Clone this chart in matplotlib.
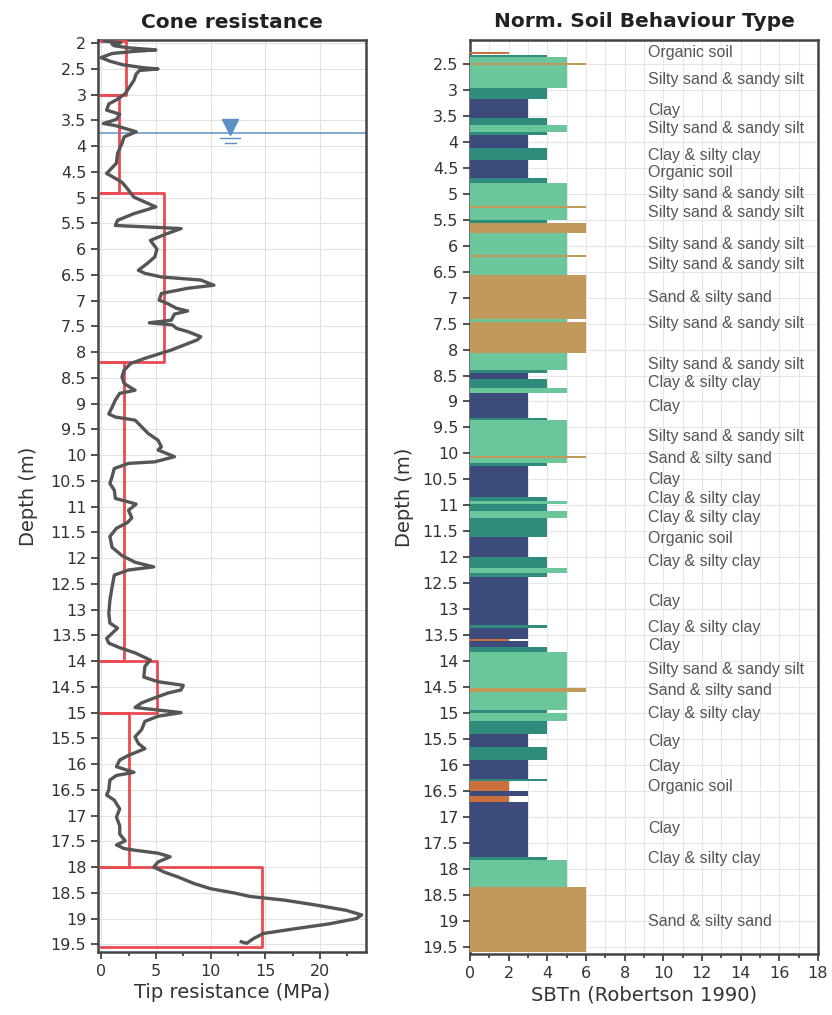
import numpy as np
import matplotlib
matplotlib.use("Agg")
from matplotlib import pyplot as plt
from matplotlib.ticker import MultipleLocator

# cone tip resistance profile (depth m, qc MPa)
qc_depth = [1.96, 1.99, 2.02, 2.05, 2.09, 2.13, 2.16, 2.2, 2.28, 2.35, 2.42, 2.48, 2.5, 2.53,
            2.6, 2.72, 2.85, 2.98, 3.1, 3.18, 3.3, 3.38, 3.48, 3.56, 3.6, 3.72, 3.82, 3.95,
            4.14, 4.33, 4.53, 4.6, 4.7, 4.8, 4.99, 5.18, 5.31, 5.44, 5.54, 5.6, 5.7, 5.83,
            6.0, 6.15, 6.28, 6.41, 6.47, 6.54, 6.6, 6.7, 6.76, 6.86, 6.99, 7.05, 7.15, 7.2,
            7.26, 7.38, 7.43, 7.47, 7.54, 7.6, 7.7, 7.76, 7.86, 7.96, 8.06, 8.12, 8.22, 8.35,
            8.48, 8.61, 8.74, 8.8, 8.93, 9.07, 9.2, 9.26, 9.32, 9.45, 9.58, 9.71, 9.84, 9.9,
            10.03, 10.13, 10.16, 10.26, 10.42, 10.55, 10.68, 10.84, 10.95, 11.07, 11.22,
            11.31, 11.42, 11.58, 11.79, 11.95, 12.08, 12.17, 12.23, 12.33, 12.56, 12.82,
            13.07, 13.26, 13.36, 13.46, 13.56, 13.65, 13.74, 13.84, 13.98, 14.1, 14.31, 14.4,
            14.47, 14.56, 14.62, 14.72, 14.81, 14.9, 15.0, 15.07, 15.17, 15.33, 15.47, 15.6,
            15.7, 15.83, 15.92, 16.05, 16.16, 16.22, 16.31, 16.5, 16.6, 16.7, 16.87, 17.03,
            17.2, 17.36, 17.49, 17.57, 17.64, 17.67, 17.73, 17.8, 17.9, 18.0, 18.1, 18.19,
            18.32, 18.42, 18.5, 18.57, 18.64, 18.74, 18.84, 18.93, 19.0, 19.1, 19.2, 19.29,
            19.39, 19.48, 19.45]
qc_value = [0.3, 1.8, 1.0, 1.2, 2.5, 5.0, 3.0, 1.0, 0.0, 0.8, 2.0, 4.0, 5.2, 3.5,
            3.2, 3.0, 2.6, 2.2, 1.4, 0.7, 0.5, 1.7, 1.4, 0.2, 1.3, 3.2, 2.1, 1.9,
            1.5, 1.4, 0.5, 1.1, 1.9, 2.3, 3.0, 5.0, 3.0, 1.5, 1.3, 7.3, 6.0, 4.5,
            5.1, 4.9, 4.2, 3.4, 4.0, 5.5, 9.1, 10.3, 7.9, 5.5, 5.3, 6.0, 6.9, 7.9,
            6.7, 6.4, 4.4, 6.5, 6.9, 7.9, 9.1, 8.8, 7.6, 6.4, 4.9, 4.0, 2.7, 2.1,
            1.9, 2.1, 3.1, 1.7, 1.3, 1.0, 0.7, 1.3, 3.1, 3.7, 4.3, 5.2, 5.5, 5.2,
            6.7, 4.9, 2.5, 1.2, 1.0, 0.8, 1.2, 1.3, 3.2, 2.5, 2.8,
            2.4, 1.4, 0.8, 1.0, 1.9, 3.1, 4.8, 2.5, 1.2, 1.0, 0.8,
            0.7, 0.8, 1.5, 1.0, 0.5, 0.7, 1.7, 3.1, 4.5, 4.0, 3.9, 5.2,
            7.5, 7.3, 6.1, 4.8, 3.7, 3.1, 7.3, 5.2, 4.0, 3.7, 3.1, 3.4,
            4.0, 2.5, 1.7, 1.4, 3.0, 1.4, 0.8, 0.7, 0.5, 1.2, 1.7, 1.4,
            1.7, 1.7, 2.2, 1.4, 2.1, 3.0, 5.2, 6.3, 5.2, 4.8, 5.8, 7.0,
            8.5, 10.0, 12.1, 13.6, 16.7, 19.7, 22.4, 23.8, 23.3, 20.9, 17.6, 14.8,
            13.9, 13.3, 12.8]

# averaged qc per layer (top, bottom, MPa)
layer_top = [1.96, 3.0, 4.9, 8.2, 14.0, 15.0, 18.0]
layer_bottom = [3.0, 4.9, 8.2, 14.0, 15.0, 18.0, 19.55]
layer_qc = [2.3, 1.6, 5.7, 2.1, 5.1, 2.5, 14.7]

water_depth = 3.75
water_marker_x = 11.8

# SBTn zones (top, bottom, zone number)
sbt_top = [2.27, 2.33, 2.37, 2.48, 2.53, 2.96, 3.17, 3.54, 3.67, 3.81, 3.87, 4.12, 4.35,
           4.7, 4.8, 5.24, 5.27, 5.5, 5.56, 5.76, 6.18, 6.22, 6.56, 7.42, 7.47, 8.06,
           8.39, 8.45, 8.56, 8.74, 8.83, 9.31, 9.36, 10.05, 10.09, 10.18, 10.24, 10.83,
           10.92, 10.97, 11.1, 11.24, 11.6, 12.0, 12.2, 12.3, 12.38, 13.3, 13.36, 13.58,
           13.62, 13.73, 13.82, 14.51, 14.6, 14.94, 15.0, 15.15, 15.4, 15.65, 15.9,
           16.26, 16.3, 16.5, 16.6, 16.72, 17.77, 17.83, 18.35]
sbt_bottom = [2.31, 2.37, 2.48, 2.53, 2.96, 3.17, 3.54, 3.67, 3.81, 3.87, 4.12, 4.35, 4.7,
              4.8, 5.24, 5.27, 5.5, 5.56, 5.76, 6.18, 6.22, 6.56, 7.42, 7.47, 8.06, 8.39,
              8.45, 8.56, 8.74, 8.83, 9.31, 9.36, 10.05, 10.09, 10.18, 10.24, 10.83, 10.92,
              10.97, 11.1, 11.24, 11.6, 12.0, 12.2, 12.3, 12.38, 13.3, 13.36, 13.58, 13.62,
              13.73, 13.82, 14.51, 14.6, 14.94, 15.0, 15.15, 15.4, 15.65, 15.9, 16.26,
              16.3, 16.5, 16.6, 16.72, 17.77, 17.83, 18.35, 19.6]
sbt_zone = [2, 4, 5, 6, 5, 4, 3, 4, 5, 4, 3, 4, 3,
            4, 5, 6, 5, 4, 6, 5, 6, 5, 6, 5, 6, 5,
            4, 3, 4, 5, 3, 4, 5, 6, 5, 4, 3, 4,
            5, 4, 5, 4, 3, 4, 5, 4, 3, 4, 3, 2,
            3, 4, 5, 6, 5, 4, 5, 4, 3, 4, 3,
            4, 2, 3, 2, 3, 4, 5, 6]

zone_colors = {2: "#c9703c", 3: "#3d4a7c", 4: "#2f8b7b", 5: "#6cc69b", 6: "#c19a5b"}

label_depth = [2.29, 2.81, 3.39, 3.74, 4.27, 4.6, 5.0, 5.37, 5.97, 6.37, 7.0, 7.5, 8.28,
               8.64, 9.1, 9.68, 10.09, 10.51, 10.86, 11.24, 11.63, 12.09, 12.86, 13.36,
               13.69, 14.17, 14.57, 15.0, 15.55, 16.03, 16.42, 17.23, 17.79, 19.02]
label_text = ["Organic soil", "Silty sand & sandy silt", "Clay", "Silty sand & sandy silt",
              "Clay & silty clay", "Organic soil", "Silty sand & sandy silt",
              "Silty sand & sandy silt", "Silty sand & sandy silt", "Silty sand & sandy silt",
              "Sand & silty sand", "Silty sand & sandy silt", "Silty sand & sandy silt",
              "Clay & silty clay", "Clay", "Silty sand & sandy silt", "Sand & silty sand",
              "Clay", "Clay & silty clay", "Clay & silty clay", "Organic soil",
              "Clay & silty clay", "Clay", "Clay & silty clay", "Clay",
              "Silty sand & sandy silt", "Sand & silty sand", "Clay & silty clay", "Clay",
              "Clay", "Organic soil", "Clay", "Clay & silty clay", "Sand & silty sand"]

plt.rcParams["font.family"] = "DejaVu Sans"
axis_col = "#333333"

fig = plt.figure(figsize=(8.32, 10.15), dpi=100)
ax1 = fig.add_axes([0.118, 0.062, 0.322, 0.8985])
ax2 = fig.add_axes([0.565, 0.060, 0.418, 0.9006])


def style(ax):
    for s in ax.spines.values():
        s.set_color("#444444")
        s.set_linewidth(1.8)
    ax.tick_params(which="both", direction="out", colors=axis_col, labelsize=11.5,
                   width=1.2, top=False, right=False)
    ax.tick_params(which="major", length=5)
    ax.tick_params(which="minor", length=3)
    ax.set_axisbelow(True)


# --- cone resistance ---
style(ax1)
ax1.grid(True, which="major", color="#e2e2e2", linewidth=0.8)
for t, b, q in zip(layer_top, layer_bottom, layer_qc):
    ax1.plot([0, q, q, 0], [t, t, b, b], color="#ea4a52", linewidth=2, zorder=3)
ax1.plot(qc_value, qc_depth, color="#555555", linewidth=2.4, zorder=4)
ax1.axhline(water_depth, color="#6a9ccc", linewidth=1.2, zorder=2)
ax1.plot([water_marker_x], [water_depth - 0.12], marker="v", markersize=11,
         color="#5b8fc6", zorder=5)
ax1.plot([water_marker_x - 0.9, water_marker_x + 0.9], [water_depth + 0.1] * 2,
         color="#5b8fc6", linewidth=1)
ax1.plot([water_marker_x - 0.5, water_marker_x + 0.5], [water_depth + 0.18] * 2,
         color="#5b8fc6", linewidth=1)
ax1.set_xlim(-0.27, 24.2)
ax1.set_ylim(19.65, 1.94)
ax1.xaxis.set_major_locator(MultipleLocator(5))
ax1.xaxis.set_minor_locator(MultipleLocator(2.5))
ax1.yaxis.set_major_locator(MultipleLocator(0.5))
ax1.yaxis.set_major_formatter(plt.FuncFormatter(lambda v, p: f"{v:g}"))
ax1.set_title("Cone resistance", fontsize=14.5, fontweight="bold", color="#222222", pad=9)
ax1.set_xlabel("Tip resistance (MPa)", fontsize=14, color=axis_col, labelpad=3)
ax1.set_ylabel("Depth (m)", fontsize=14, color=axis_col, labelpad=9)

# --- soil behaviour type ---
style(ax2)
ax2.grid(True, which="both", color="#e6e6e6", linewidth=0.8)
sbt_top = np.array(sbt_top)
sbt_bottom = np.array(sbt_bottom)
ax2.barh((sbt_top + sbt_bottom) / 2, sbt_zone, height=sbt_bottom - sbt_top, left=0,
         color=[zone_colors[z] for z in sbt_zone], linewidth=0, zorder=3)
for d, txt in zip(label_depth, label_text):
    ax2.text(9.2, d, txt, fontsize=11.5, color="#555555", va="center", ha="left",
             family="Liberation Sans", zorder=4)
ax2.set_xlim(0, 18)
ax2.set_ylim(19.64, 2.04)
ax2.xaxis.set_major_locator(MultipleLocator(2))
ax2.xaxis.set_minor_locator(MultipleLocator(1))
ax2.yaxis.set_major_locator(MultipleLocator(0.5))
ax2.yaxis.set_major_formatter(plt.FuncFormatter(lambda v, p: f"{v:g}"))
ax2.set_title("Norm. Soil Behaviour Type", fontsize=14.5, fontweight="bold", color="#222222",
              pad=9)
ax2.set_xlabel("SBTn (Robertson 1990)", fontsize=14, color=axis_col, labelpad=3)
ax2.set_ylabel("Depth (m)", fontsize=14, color=axis_col, labelpad=6)

fig.savefig("out.png", dpi=100)
